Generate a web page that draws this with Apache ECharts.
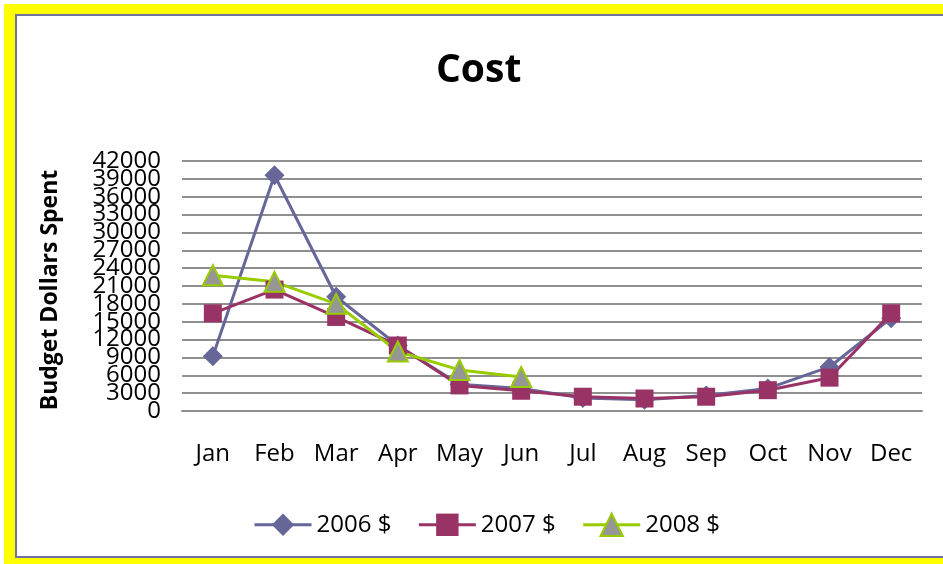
<!DOCTYPE html>
<html>
<head>
<meta charset="utf-8">
<script src="https://cdn.jsdelivr.net/npm/echarts@6/dist/echarts.min.js"></script>
<style>
  html, body { margin: 0; padding: 0; width: 943px; height: 564px; overflow: hidden; background: #ffffff; }
  #yellow { position: absolute; left: 4px; top: 4px; width: 960px; height: 560px; background: #ffff00; }
  #inner { position: absolute; left: 15px; top: 14px; width: 960px; height: 540px; background: #ffffff;
           border-left: 2px solid #7072a6; border-top: 2px solid #7072a6; border-bottom: 2px solid #7072a6; }
  #chart { position: absolute; left: 0; top: 0; width: 943px; height: 564px; }
</style>
</head>
<body>
<div id="yellow"></div>
<div id="inner"></div>
<div id="chart"></div>
<script>
const months = ['Jan', 'Feb', 'Mar', 'Apr', 'May', 'Jun', 'Jul', 'Aug', 'Sep', 'Oct', 'Nov', 'Dec'];
const cost2006 = [9200, 39600, 19200, 11000, 4500, 3800, 2200, 1900, 2600, 3800, 7400, 15600];
const cost2007 = [16400, 20400, 15800, 11000, 4300, 3400, 2400, 2100, 2400, 3500, 5600, 16400];
const cost2008 = [22800, 21700, 18000, 10000, 6900, 5700, null, null, null, null, null, null];
const seriesNames = ['2006 $', '2007 $', '2008 $'];
const yMin = 0, yMax = 42000, yStep = 3000;

const chart = echarts.init(document.getElementById('chart'), null, { renderer: 'canvas' });
const font = 'Open Sans';
const gridRect = { left: 182, right: 21, top: 161, bottom: 153 };
const labelStyle = { fontFamily: font, fontSize: 24, color: '#000', margin: 21 };
chart.setOption({
  animation: false,
  backgroundColor: 'transparent',
  title: {
    text: 'Cost',
    left: 431,
    top: 46,
    textStyle: { fontFamily: font, fontWeight: 'bold', fontSize: 39, color: '#000' }
  },
  legend: {
    data: seriesNames,
    bottom: 22,
    left: 248,
    itemWidth: 57,
    itemHeight: 28,
    itemGap: 26,
    lineStyle: { width: 3 },
    textStyle: { fontFamily: font, fontSize: 24, color: '#000' }
  },
  grid: [Object.assign({}, gridRect), Object.assign({}, gridRect)],
  xAxis: [
    {
      type: 'category',
      data: months,
      boundaryGap: true,
      axisLine: { show: true, lineStyle: { color: '#8f8f8f', width: 2 } },
      axisTick: { show: false },
      axisLabel: { fontFamily: font, fontSize: 24, color: '#000', margin: 31 }
    },
    { type: 'category', data: months, gridIndex: 1, show: false }
  ],
  yAxis: [
    {
      type: 'value',
      min: yMin,
      max: yMax,
      interval: yStep,
      name: 'Budget Dollars Spent',
      nameLocation: 'middle',
      nameRotate: 90,
      nameGap: 120,
      nameTextStyle: { fontFamily: font, fontWeight: 'bold', fontSize: 23, color: '#000', padding: [0, 8, 0, 0] },
      axisLine: { show: false },
      axisTick: { show: false },
      axisLabel: Object.assign({}, labelStyle, {
        showMinLabel: false, showMaxLabel: false,
        formatter: function (v) { return String(v); }
      }),
      splitLine: { lineStyle: { color: '#8f8f8f', width: 2 } }
    },
    {
      type: 'value',
      gridIndex: 1,
      min: yMin,
      max: yMax,
      interval: yMax - yMin,
      axisLine: { show: false },
      axisTick: { show: false },
      splitLine: { show: false },
      axisLabel: Object.assign({}, labelStyle, {
        showMinLabel: true, showMaxLabel: true,
        formatter: function (v) { return String(v); }
      })
    }
  ],
  series: [
    {
      name: seriesNames[0], type: 'line', data: cost2006,
      symbol: 'diamond', symbolSize: 20,
      lineStyle: { color: '#666699', width: 3 },
      itemStyle: { color: '#666699' }
    },
    {
      name: seriesNames[1], type: 'line', data: cost2007,
      symbol: 'rect', symbolSize: 18,
      lineStyle: { color: '#993366', width: 3 },
      itemStyle: { color: '#993366' }
    },
    {
      name: seriesNames[2], type: 'line', data: cost2008,
      symbol: 'triangle', symbolSize: 20,
      lineStyle: { color: '#99cc00', width: 3 },
      itemStyle: { color: '#969696', borderColor: '#99cc00', borderWidth: 2 }
    }
  ]
});
</script>
</body>
</html>
